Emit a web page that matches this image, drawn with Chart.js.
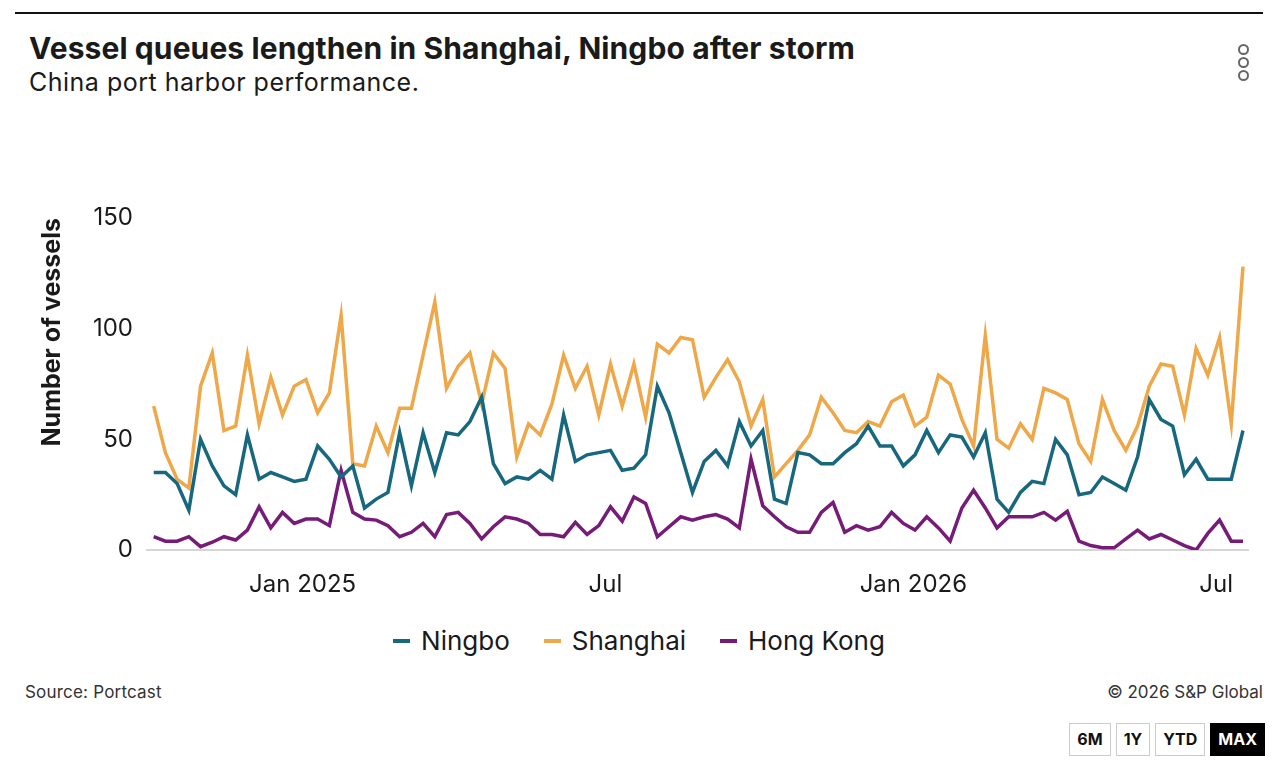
<!DOCTYPE html>
<html>
<head>
<meta charset="utf-8">
<title>Vessel queues</title>
<script src="https://cdn.jsdelivr.net/npm/chart.js@4.4.1/dist/chart.umd.min.js"></script>
<style>
	body{margin:0;width:1278px;height:771px;background:#fff;font-family:Inter,Roboto,sans-serif;color:#1a1a1a;position:relative;overflow:hidden;}
	#rule{position:absolute;left:15px;top:12px;width:1248px;height:2px;background:#111;}
	#title{position:absolute;left:29px;top:33px;font-size:30px;line-height:30px;font-weight:700;white-space:nowrap;letter-spacing:0.1px;}
	#sub{position:absolute;left:29px;top:70px;font-size:25px;line-height:25px;white-space:nowrap;letter-spacing:0.5px;}
	#menu{position:absolute;left:1238px;top:44px;}
	#menu span{display:block;width:7px;height:7px;border:2px solid #666;border-radius:50%;margin-bottom:2px;}
	#wrap{position:absolute;left:0;top:150px;width:1278px;height:460px;}
	#legend{position:absolute;left:0;top:627px;width:1278px;text-align:center;font-size:26px;line-height:28px;white-space:nowrap;}
	#legend span{display:inline-block;margin:0 17px;}
	#legend i{display:inline-block;width:17px;height:4px;vertical-align:middle;margin-right:11px;position:relative;top:-2px;}
	#source{position:absolute;left:25px;top:684px;font-size:17px;line-height:17px;color:#333;letter-spacing:0.2px;}
	#copy{position:absolute;right:15px;top:684px;font-size:17px;line-height:17px;color:#333;}
	#range{position:absolute;right:13px;top:723px;display:flex;}
	#range div{border:1px solid #ccc;height:31px;line-height:31px;padding:0 7px;margin-left:5px;font-size:16px;font-weight:700;color:#111;}
	#range div.on{background:#000;color:#fff;border-color:#000;}
</style>
</head>
<body>
<div id="rule"></div>
<div id="title">Vessel queues lengthen in Shanghai, Ningbo after storm</div>
<div id="sub">China port harbor performance.</div>
<div id="menu"><span></span><span></span><span></span></div>
<div id="wrap"><canvas id="chart"></canvas></div>
<div id="legend"></div>
<div id="source">Source: Portcast</div>
<div id="copy">© 2026 S&amp;P Global</div>
<div id="range"><div>6M</div><div>1Y</div><div>YTD</div><div class="on">MAX</div></div>
<script>
	// weekly readings, first week ending 4 Oct 2024
	var firstWeek = '2024-10-04';

	var ningbo = [35, 35, 30, 18, 50, 38, 29, 25, 52, 32, 35, 33, 31, 32, 47, 41,
		33, 38, 19, 23, 26, 53, 29, 53, 35, 53, 52, 58, 69, 39, 30, 33,
		32, 36, 32, 61, 40, 43, 44, 45, 36, 37, 43, 74, 62, 44, 26, 40,
		45, 38, 58, 47, 54, 23, 21, 44, 43, 39, 39, 44, 48, 56, 47, 47,
		38, 43, 54, 44, 52, 51, 42, 53, 23, 17, 26, 31, 30, 50, 43,
		25, 26, 33, 30, 27, 42, 68, 59, 56, 34, 41, 32, 32, 32, 54];

	var shanghai = [65, 44, 32, 28, 74, 89, 54, 56, 88, 57, 78, 61, 74, 77, 62, 71,
		106, 39, 38, 56, 44, 64, 64, 88, 112, 73, 83, 89, 66, 89, 82, 42,
		57, 52, 66, 88, 73, 83, 61, 84, 65, 84, 60, 93, 89, 96, 95, 69,
		78, 86, 76, 56, 68, 33, 39, 45, 52, 69, 62, 54, 53, 58, 56, 67,
		70, 56, 60, 79, 75, 59, 47, 97, 50, 46, 57, 50, 73, 71, 68,
		48, 40, 68, 54, 45, 56, 74, 84, 83, 61, 91, 79, 96, 57, 128];

	var hongKong = [6, 4, 4, 6, 1.5, 3.5, 6, 4.5, 9, 19.5, 10, 17, 12, 14, 14, 11,
		36, 17, 14, 13.5, 11, 6, 8, 12, 6, 16, 17, 12, 5, 10.5, 15, 14,
		12, 7, 7, 6, 12.5, 7, 11, 19.5, 13, 24, 21, 6, 10.5, 15, 13.5, 15,
		16, 14, 10, 41, 20, 15, 10.5, 8, 8, 17, 21.5, 8, 11, 9, 10.5, 17,
		12, 9, 15, 10, 4, 19, 27, 19, 10, 15, 15, 15, 17, 13.5, 17.5,
		4, 2, 1, 1, 5, 9, 5, 7, 4.5, 2, 0, 7.5, 13.5, 4, 4];

	var tickDates = ['2025-01-01', '2025-07-01', '2026-01-01', '2026-07-01'];
	var tickLabels = ['Jan 2025', 'Jul', 'Jan 2026', 'Jul'];
	var yTicks = [0, 50, 100, 150];

	var seriesNames = ['Ningbo', 'Shanghai', 'Hong Kong'];
	var seriesColors = ['#17687f', '#eea84a', '#761c78'];

	function dayNum( s ){
		var p = s.split('-');
		return Date.UTC( +p[0], p[1] - 1, +p[2] ) / 864e5;
	}

	var start = dayNum( firstWeek ),
		weeks = ningbo.map(function( v, i ){ return start + i * 7; });

	function points( values ){
		return values.map(function( v, i ){ return { x: weeks[ i ], y: v }; });
	}

	var datasets = [ ningbo, shanghai, hongKong ].map(function( values, i ){
		return {
			label: seriesNames[ i ],
			data: points( values ),
			borderColor: seriesColors[ i ],
			backgroundColor: seriesColors[ i ],
			borderWidth: 3.5,
			pointRadius: 0,
			tension: 0
		};
	});

	// html legend
	var legend = '';
	for( var i = 0; i < seriesNames.length; i++ ){
		legend += '<span><i style="background:' + seriesColors[ i ] + '"></i>' + seriesNames[ i ] + '</span>';
	}
	document.getElementById( 'legend' ).innerHTML = legend;

	Chart.defaults.font.family = "Inter, Roboto, sans-serif";
	Chart.defaults.color = '#1a1a1a';

	new Chart( document.getElementById( 'chart' ).getContext( '2d' ), {
		type: 'line',
		data: { datasets: datasets },
		options: {
			responsive: true,
			maintainAspectRatio: false,
			animation: false,
			layout: { padding: { left: 0, right: 30, top: 68, bottom: 0 } },
			plugins: { legend: { display: false }, tooltip: { enabled: false } },
			scales: {
				x: {
					type: 'linear',
					min: weeks[ 0 ] - 4,
					max: weeks[ weeks.length - 1 ] + 3,
					afterBuildTicks: function( scale ){
						scale.ticks = tickDates.map(function( d ){ return { value: dayNum( d ) }; });
					},
					afterFit: function( scale ){ scale.height = 60; },
					ticks: {
						autoSkip: false,
						maxRotation: 0,
						padding: 20,
						font: { size: 24 },
						callback: function( v, i ){ return tickLabels[ i ]; }
					},
					grid: { display: false, drawTicks: false },
					border: { display: true, color: '#d6d6d6', width: 2 }
				},
				y: {
					min: 0,
					max: 150,
					afterBuildTicks: function( scale ){
						scale.ticks = yTicks.map(function( v ){ return { value: v }; });
					},
					afterFit: function( scale ){ scale.width = 147; },
					ticks: { padding: 14, font: { size: 24 } },
					grid: { display: false, drawTicks: false },
					border: { display: false },
					title: {
						display: true,
						text: 'Number of vessels',
						align: 'end',
						font: { size: 25, weight: 'bold' },
						padding: { top: 37, bottom: 0 }
					}
				}
			}
		}
	});
</script>
</body>
</html>
